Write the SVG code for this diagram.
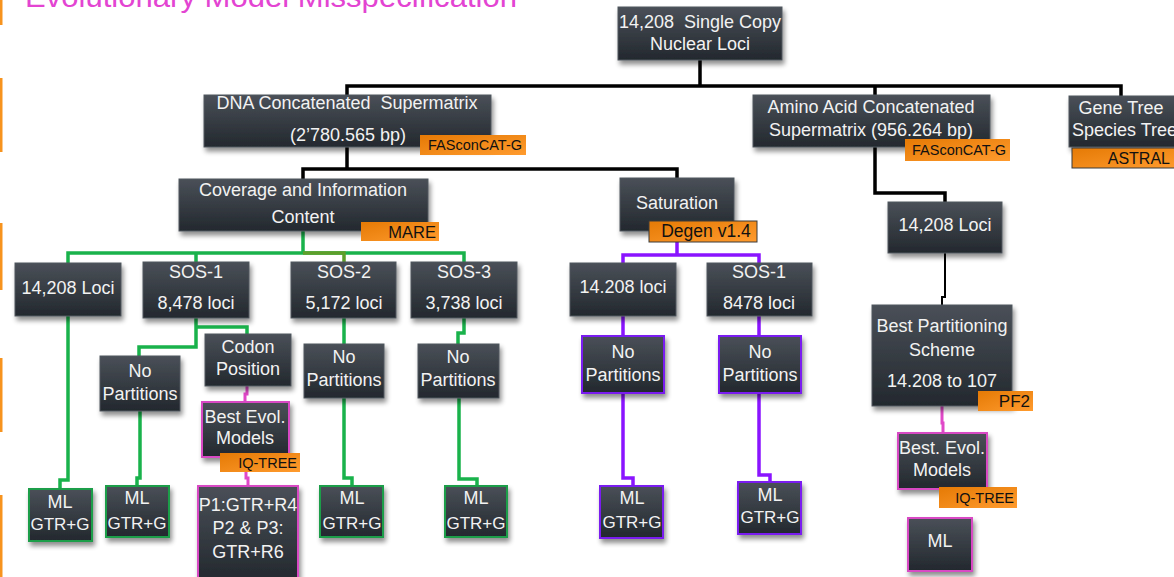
<svg xmlns="http://www.w3.org/2000/svg" width="1174" height="577" viewBox="0 0 1174 577">
<defs>
<linearGradient id="bg" x1="0" y1="0" x2="0" y2="1">
<stop offset="0" stop-color="#4a5058"/>
<stop offset="0.5" stop-color="#363c43"/>
<stop offset="1" stop-color="#23282e"/>
</linearGradient>
<linearGradient id="og" x1="0" y1="0" x2="1" y2="1">
<stop offset="0" stop-color="#e57a05"/>
<stop offset="1" stop-color="#ff9b2e"/>
</linearGradient>
<filter id="sh" x="-20%" y="-20%" width="150%" height="160%">
<feGaussianBlur in="SourceAlpha" stdDeviation="2.5"/>
<feOffset dx="2" dy="4" result="o"/>
<feComponentTransfer><feFuncA type="linear" slope="0.45"/></feComponentTransfer>
<feMerge><feMergeNode/><feMergeNode in="SourceGraphic"/></feMerge>
</filter>
<style>
.b{fill:url(#bg);filter:url(#sh);stroke:#50565e;stroke-width:1}
.gb{stroke:#1a9e48;stroke-width:2}
.pb{stroke:#7a1ff0;stroke-width:2}
.mb{stroke:#d848c4;stroke-width:2}
.t{font-family:"Liberation Sans",Arial,sans-serif;font-size:18px;fill:#f2f2f2;text-anchor:middle}
.s{font-size:17px}
.l{fill:url(#og)}
.ld{stroke:#3a3a3a;stroke-width:1}
.lt{font-family:"Liberation Sans",Arial,sans-serif;font-size:14.5px;fill:#111;text-anchor:end}
.k{stroke:#000;stroke-width:3.5;fill:none}
.kt{stroke:#000;stroke-width:2;fill:none}
.gr{stroke:#19b24b;stroke-width:3.5;fill:none}
.ol{stroke:#5e9e2a;stroke-width:3.5;fill:none}
.pu{stroke:#8a14ff;stroke-width:3.5;fill:none}
.mg{stroke:#e048c8;stroke-width:3;fill:none}
.ob{fill:#f7931e}
</style>
</defs>
<rect width="1174" height="577" fill="#ffffff"/>
<g id="decor">
<rect class="ob" x="0" y="0" width="2.5" height="25"/>
<rect class="ob" x="0" y="78" width="2.5" height="74"/>
<rect class="ob" x="0" y="223" width="2.5" height="67"/>
<rect class="ob" x="0" y="358" width="2.5" height="74"/>
<rect class="ob" x="0" y="495" width="2.5" height="82"/>
<text x="25" y="7" font-family="Liberation Sans, Arial, sans-serif" font-size="30" fill="#e344d2" textLength="492" lengthAdjust="spacingAndGlyphs">Evolutionary Model Misspecification</text>
</g>
<g id="connectors">
<path class="k" d="M700,60 V86 M347,95 V86 H1121 V96 M875,86 V95"/>
<path class="k" d="M347,147 V169 M303,179 V169 H677 V178"/>
<path class="k" d="M875,147 V193 H945 V202"/>
<path class="kt" d="M945,253 V297 H942 V305"/>
<path class="gr" d="M303,231 V253 M68,263 V253 H464 V262 M196,253 V262"/>
<path class="ol" d="M303,253 H344 V262"/>
<path class="gr" d="M196,318 V347 H139 V356 M196,327 H247 V334"/>
<path class="gr" d="M68,316 V480 H60 V489"/>
<path class="gr" d="M140,411 V478 H137 V486"/>
<path class="gr" d="M344,318 V344 M344,398 V478 H352 V486"/>
<path class="gr" d="M464,318 V333 H458 V344 M459,398 V479 H477 V486"/>
<path class="pu" d="M677,242 V255 M623,263 V255 H759 V263"/>
<path class="pu" d="M623,316 V336 M759,316 V336"/>
<path class="pu" d="M623,393 V478 H633 V486"/>
<path class="pu" d="M759,393 V475 H770 V482"/>
<path class="mg" d="M247,386 V394 H245 V402"/>
<path class="mg" d="M246,457 V478 H248 V486"/>
<path class="mg" d="M942,406 V423 H943 V433"/>
</g>
<g id="root"><rect class="b" x="618" y="7" width="164" height="53"/><text class="t" x="700" y="27.5" style="white-space:pre">14,208  Single Copy</text><text class="t" x="700" y="49.5">Nuclear Loci</text></g>
<g id="dna"><rect class="b" x="204" y="95" width="287" height="52"/><text class="t" x="347" y="109" style="white-space:pre">DNA Concatenated  Supermatrix</text><text class="t" x="348" y="141">(2’780.565 bp)</text><rect class="l" x="420" y="135" width="106" height="20"/><text class="lt" x="522" y="150">FASconCAT-G</text></g>
<g id="amino"><rect class="b" x="753" y="95" width="237" height="52"/><text class="t" x="871" y="113">Amino Acid Concatenated</text><text class="t" x="871" y="136">Supermatrix (956.264 bp)</text><rect class="l" x="905" y="139" width="105" height="22"/><text class="lt" x="1006" y="155">FASconCAT-G</text></g>
<g id="genetree"><rect class="b" x="1069" y="96" width="112" height="51"/><text class="t" x="1121" y="114">Gene Tree</text><text class="t" x="1072" y="136" style="text-anchor:start">Species Tree</text><rect class="l ld" x="1072" y="148" width="110" height="20"/><text class="lt" x="1170" y="164" style="font-size:16px">ASTRAL</text></g>
<g id="coverage"><rect class="b" x="179" y="179" width="249" height="52"/><text class="t" x="303" y="196">Coverage and Information</text><text class="t" x="303" y="223">Content</text><rect class="l" x="361" y="222" width="78" height="19"/><text class="lt" x="436" y="238" style="font-size:16.5px">MARE</text></g>
<g id="saturation"><rect class="b" x="620" y="178" width="114" height="53"/><text class="t" x="677" y="209">Saturation</text><rect class="l ld" x="649" y="221" width="108" height="21"/><text class="lt" x="706" y="237" style="font-size:17.5px;text-anchor:middle">Degen v1.4</text></g>
<g id="loci-all"><rect class="b" x="15" y="263" width="106" height="53"/><text class="t" x="68" y="294">14,208 Loci</text></g>
<g id="sos1"><rect class="b" x="143" y="262" width="106" height="56"/><text class="t" x="196" y="278">SOS-1</text><text class="t" x="196" y="309">8,478 loci</text></g>
<g id="sos2"><rect class="b" x="291" y="262" width="105" height="56"/><text class="t" x="344" y="278">SOS-2</text><text class="t" x="344" y="309">5,172 loci</text></g>
<g id="sos3"><rect class="b" x="411" y="262" width="106" height="56"/><text class="t" x="464" y="278">SOS-3</text><text class="t" x="464" y="309">3,738 loci</text></g>
<g id="np-sos1"><rect class="b" x="100" y="356" width="80" height="55"/><text class="t" x="140" y="377">No</text><text class="t" x="140" y="400">Partitions</text></g>
<g id="codon"><rect class="b" x="205" y="334" width="86" height="52"/><text class="t" x="248" y="353">Codon</text><text class="t" x="248" y="375">Position</text></g>
<g id="np-sos2"><rect class="b" x="304" y="344" width="80" height="54"/><text class="t" x="344" y="363">No</text><text class="t" x="344" y="386">Partitions</text></g>
<g id="np-sos3"><rect class="b" x="418" y="344" width="81" height="54"/><text class="t" x="458" y="363">No</text><text class="t" x="458" y="386">Partitions</text></g>
<g id="bestevol-dna"><rect class="b mb" x="202" y="402" width="87" height="55"/><text class="t" x="245" y="423">Best Evol.</text><text class="t" x="245" y="444">Models</text><rect class="l" x="220" y="453" width="80" height="19"/><text class="lt" x="297" y="468">IQ-TREE</text></g>
<g id="p1"><rect class="b mb" x="198" y="486" width="100" height="95"/><text class="t" x="248" y="511">P1:GTR+R4</text><text class="t" x="248" y="534">P2 &amp; P3:</text><text class="t" x="248" y="558">GTR+R6</text></g>
<g id="ml1"><rect class="b gb" x="29" y="489" width="63" height="52"/><text class="t" x="60" y="508">ML</text><text class="t s" x="60" y="530">GTR+G</text></g>
<g id="ml2"><rect class="b gb" x="106" y="486" width="63" height="51"/><text class="t" x="137" y="504">ML</text><text class="t s" x="137" y="529">GTR+G</text></g>
<g id="ml3"><rect class="b gb" x="320" y="486" width="63" height="51"/><text class="t" x="352" y="504">ML</text><text class="t s" x="352" y="529">GTR+G</text></g>
<g id="ml4"><rect class="b gb" x="445" y="486" width="62" height="51"/><text class="t" x="476" y="504">ML</text><text class="t s" x="476" y="529">GTR+G</text></g>
<g id="sat-loci"><rect class="b" x="570" y="263" width="106" height="53"/><text class="t" x="623" y="293">14.208 loci</text></g>
<g id="sat-sos1"><rect class="b" x="707" y="263" width="105" height="53"/><text class="t" x="759" y="278">SOS-1</text><text class="t" x="759" y="309">8478 loci</text></g>
<g id="sat-np1"><rect class="b pb" x="582" y="336" width="82" height="57"/><text class="t" x="623" y="358">No</text><text class="t" x="623" y="381">Partitions</text></g>
<g id="sat-np2"><rect class="b pb" x="719" y="336" width="82" height="57"/><text class="t" x="760" y="358">No</text><text class="t" x="760" y="381">Partitions</text></g>
<g id="sat-ml1"><rect class="b pb" x="600" y="486" width="63" height="52"/><text class="t" x="632" y="504">ML</text><text class="t s" x="632" y="528">GTR+G</text></g>
<g id="sat-ml2"><rect class="b pb" x="738" y="482" width="63" height="52"/><text class="t" x="770" y="501">ML</text><text class="t s" x="770" y="523">GTR+G</text></g>
<g id="aa-loci"><rect class="b" x="888" y="202" width="114" height="51"/><text class="t" x="945" y="231">14,208 Loci</text></g>
<g id="bestpart"><rect class="b" x="872" y="305" width="140" height="101"/><text class="t" x="942" y="332">Best Partitioning</text><text class="t" x="942" y="356">Scheme</text><text class="t" x="942" y="387">14.208 to 107</text><rect class="l" x="978" y="391" width="55" height="20"/><text class="lt" x="1030" y="407" style="font-size:17px">PF2</text></g>
<g id="bestevol-aa"><rect class="b mb" x="898" y="433" width="89" height="56"/><text class="t" x="942" y="454">Best. Evol.</text><text class="t" x="942" y="476">Models</text><rect class="l" x="939" y="487" width="78" height="21"/><text class="lt" x="1014" y="503">IQ-TREE</text></g>
<g id="ml-aa"><rect class="b mb" x="908" y="518" width="64" height="53"/><text class="t" x="940" y="547">ML</text></g>
</svg>
